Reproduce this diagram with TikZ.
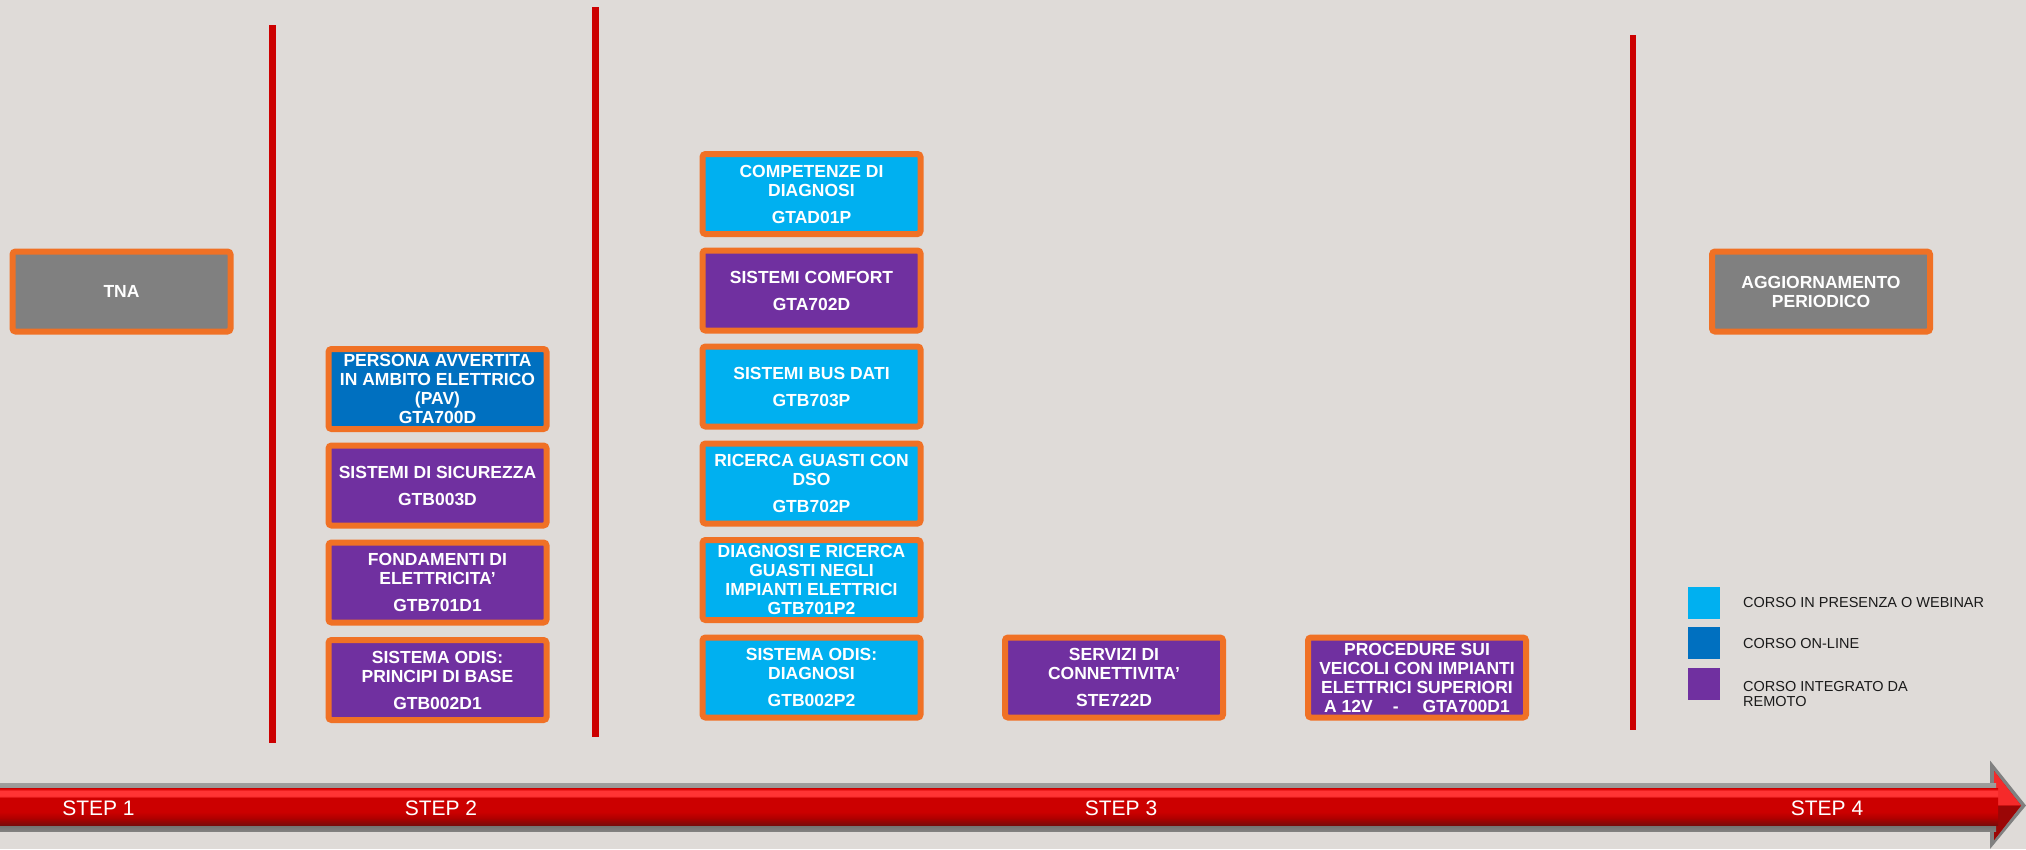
\documentclass[tikz,border=0pt]{standalone}
\usepackage{fontspec}
\setmainfont{Liberation Sans}
\definecolor{bgc}{HTML}{DFDBD8}
\definecolor{boxorange}{HTML}{F07125}
\definecolor{cgray}{HTML}{808080}
\definecolor{clblue}{HTML}{00B0F0}
\definecolor{cdblue}{HTML}{0070C0}
\definecolor{cpurple}{HTML}{7030A0}
\definecolor{vred}{HTML}{CC0000}
\definecolor{legtext}{HTML}{1A1A1A}
\definecolor{dkred}{HTML}{7A0A0A}
\definecolor{midred}{HTML}{B00000}
\definecolor{mainred}{HTML}{CC0000}
\definecolor{hired}{HTML}{FF3434}
\definecolor{topred}{HTML}{D40000}
\definecolor{graytop}{HTML}{8E8E8E}
\definecolor{graybot}{HTML}{5C5C5C}
\pgfdeclareverticalshading{redbar}{100bp}{color(0bp)=(dkred); color(25bp)=(dkred); color(34.6bp)=(midred); color(43bp)=(mainred); color(62bp)=(mainred); color(65bp)=(hired); color(71.6bp)=(hired); color(75bp)=(topred); color(100bp)=(topred)}
\pgfdeclareverticalshading{graybar}{100bp}{color(0bp)=(graybot!70!bgc); color(25bp)=(graybot!70!bgc); color(40bp)=(graybot); color(60bp)=(graytop); color(75bp)=(graytop!80!bgc); color(100bp)=(graytop!80!bgc)}
\tikzset{
  course/.style={draw=boxorange, line width=6pt, rounded corners=3pt,
    minimum width=218pt, minimum height=80pt, inner sep=0pt, align=center,
    text=white, font=\fontsize{17.5}{19}\selectfont\bfseries},
  graycourse/.style={course, fill=cgray},
  lbluecourse/.style={course, fill=clblue},
  dbluecourse/.style={course, fill=cdblue},
  purpcourse/.style={course, fill=cpurple},
  vsep/.style={draw=vred, line width=6.5pt},
  legsq/.style={minimum size=32pt, inner sep=0pt, draw=none},
  legtxt/.style={anchor=west, align=left, text=legtext, inner sep=0pt,
    font=\fontsize{14.5}{15}\selectfont},
  steplbl/.style={text=white, inner sep=0pt, font=\fontsize{21}{21}\selectfont}
}
\begin{document}
\begin{tikzpicture}[x=1pt,y=-1pt]
\useasboundingbox (0,0) rectangle (2026,849);
\fill[bgc] (0,0) rectangle (2026,849);

% separators
\draw[vsep] (272.5,25) -- (272.5,742.5);
\draw[vsep] (595.5,7) -- (595.5,736.5);
\draw[vsep] (1633,35) -- (1633,730);

% timeline arrow
\fill[graytop!90!black] (1990,760.5) -- (2026,805.5) -- (1990,849) -- cycle;
\fill[mainred] (1994,771) -- (2021,805.5) -- (1994,840) -- cycle;
\fill[hired!80!mainred] (1994,771) -- (2021,805.5) -- (1994,805.5) -- cycle;
\fill[dkred!60!mainred] (1994,805.5) -- (2021,805.5) -- (1994,840) -- cycle;
\shade[shading=graybar] (0,783.5) rectangle (1996,831.5);
\shade[shading=redbar] (0,788.5) rectangle (1998,825);

% step 1
\node[graycourse] (tna) at (121.5,291.5) {TNA};

% step 2
\node[dbluecourse] (pav) at (437.5,389) {PERSONA AVVERTITA\\IN AMBITO ELETTRICO\\(PAV)\\GTA700D};
\node[purpcourse] (sic) at (437.5,485.5) {SISTEMI DI SICUREZZA\\[8pt]GTB003D};
\node[purpcourse] (fond) at (437.5,582.5) {FONDAMENTI DI\\ELETTRICITA’\\[8pt]GTB701D1};
\node[purpcourse] (odis) at (437.5,680) {SISTEMA ODIS:\\PRINCIPI DI BASE\\[8pt]GTB002D1};

% step 3
\node[lbluecourse] (comp) at (811.5,194) {COMPETENZE DI\\DIAGNOSI\\[8pt]GTAD01P};
\node[purpcourse] (comf) at (811.5,290.5) {SISTEMI COMFORT\\[8pt]GTA702D};
\node[lbluecourse] (bus) at (811.5,386.5) {SISTEMI BUS DATI\\[8pt]GTB703P};
\node[lbluecourse] (ric) at (811.5,483.5) {RICERCA GUASTI CON\\DSO\\[8pt]GTB702P};
\node[lbluecourse] (diag) at (811.5,580) {DIAGNOSI E RICERCA\\GUASTI NEGLI\\IMPIANTI ELETTRICI\\GTB701P2};
\node[lbluecourse] (odisd) at (811.5,677.5) {SISTEMA ODIS:\\DIAGNOSI\\[8pt]GTB002P2};
\node[purpcourse] (serv) at (1114,677.5) {SERVIZI DI\\CONNETTIVITA’\\[8pt]STE722D};
\node[purpcourse] (proc) at (1417,677.5) {PROCEDURE SUI\\VEICOLI CON IMPIANTI\\ELETTRICI SUPERIORI\\A 12V\hspace*{20pt}-\hspace*{24pt}GTA700D1};

% step 4
\node[graycourse] (agg) at (1821,291.5) {AGGIORNAMENTO\\PERIODICO};

% legend
\node[legsq, fill=clblue] (leg1) at (1704,603) {};
\node[legsq, fill=cdblue] (leg2) at (1704,643) {};
\node[legsq, fill=cpurple] (leg3) at (1704,684) {};
\node[legtxt] (legt1) at (1743,602.5) {CORSO IN PRESENZA O WEBINAR};
\node[legtxt] (legt2) at (1743,643.5) {CORSO ON-LINE};
\node[legtxt] (legt3) at (1743,694) {CORSO INTEGRATO DA\\REMOTO};

% step labels
\node[steplbl] (s1) at (98.5,808) {STEP 1};
\node[steplbl] (s2) at (441,808) {STEP 2};
\node[steplbl] (s3) at (1121,808) {STEP 3};
\node[steplbl] (s4) at (1827,808) {STEP 4};
\end{tikzpicture}
\end{document}
